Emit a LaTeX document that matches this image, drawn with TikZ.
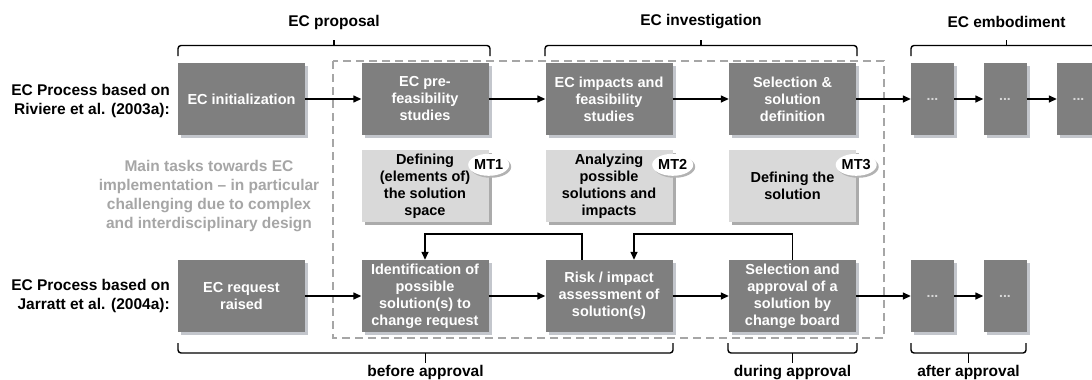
\documentclass[tikz,border=0pt]{standalone}
\usepackage{fontspec}
\setmainfont{Liberation Sans}
\usetikzlibrary{arrows.meta,shadows,shapes.geometric,calc}
\definecolor{boxgray}{HTML}{7F7F7F}
\definecolor{shgray}{HTML}{C3C6CC}
\definecolor{mtgray}{HTML}{D9D9D9}
\definecolor{mtshadow}{HTML}{ABABAB}
\definecolor{txtgray}{HTML}{A6A6A6}
\definecolor{dashgray}{HTML}{A6A6A6}
\definecolor{dotgray}{HTML}{D8D8D8}
\begin{document}
\begin{tikzpicture}[x=1pt,y=-1pt,
  boxfont/.style={font=\bfseries\fontsize{14.5}{17}\selectfont},
  proc/.style={boxfont, fill=boxgray, text=white, align=center,
    minimum width=127pt, minimum height=72pt, inner sep=0pt,
    drop shadow={shadow xshift=3pt, shadow yshift=-3pt, fill=shgray, opacity=1}},
  dotbox/.style={proc, minimum width=43pt, font=\bfseries\fontsize{14}{17}\selectfont, text=dotgray},
  task/.style={boxfont, fill=mtgray, text=black, align=center,
    minimum width=127pt, minimum height=72pt, inner sep=0pt,
    drop shadow={shadow xshift=3pt, shadow yshift=-3pt, fill=mtshadow, opacity=1}},
  bubble/.style={boxfont, ellipse, fill=white, minimum width=40pt, minimum height=22pt, inner sep=0pt,
    drop shadow={shadow xshift=2pt, shadow yshift=-2pt, fill=gray!60, opacity=1}},
  flow/.style={line width=1.4pt, -{Triangle[length=8pt,width=7pt]}},
  brace/.style={line width=1.4pt, rounded corners=3pt},
  head/.style={font=\bfseries\fontsize{15.5}{19}\selectfont},
  side/.style={font=\bfseries\fontsize{15.5}{19}\selectfont, align=right, anchor=east, inner sep=0pt},
  note/.style={font=\bfseries\fontsize{15.5}{18.7}\selectfont, text=txtgray, align=center, inner sep=0pt}
]
\useasboundingbox (0,0) rectangle (1092,380);
\fill[white] (0,0) rectangle (1092,380);

% dashed frame
\draw[dashgray, line width=1.4pt, dash pattern=on 8pt off 5pt] (333,61) rectangle (884,338);

% top row
\node[proc] (init) at (241.5,99) {EC initialization};
\node[proc] (pre) at (425,99) {EC pre-\\feasibility\\studies};
\node[proc] (imp) at (609,99) {EC impacts and\\feasibility\\studies};
\node[proc] (seldef) at (792.5,99) {Selection \&\\solution\\definition};
\node[dotbox] (d1) at (932.5,99) {...};
\node[dotbox] (d2) at (1005,99) {...};
\node[dotbox] (d3) at (1078.5,99) {...};

% main tasks
\node[task] (mt1) at (425,186) {Defining\\(elements of)\\the solution\\space};
\node[task] (mt2) at (609,186) {Analyzing\\possible\\solutions and\\impacts};
\node[task] (mt3) at (792.5,186) {Defining the\\solution};
\node[bubble] (b1) at ([yshift=-15pt]mt1.north east) {MT1};
\node[bubble] (b2) at ([yshift=-15pt]mt2.north east) {MT2};
\node[bubble] (b3) at ([yshift=-15pt]mt3.north east) {MT3};

% bottom row
\node[proc] (req) at (241.5,296) {EC request\\raised};
\node[proc] (ident) at (425,296) {Identification of\\possible\\solution(s) to\\change request};
\node[proc] (risk) at (609,296) {Risk / impact\\assessment of\\solution(s)};
\node[proc] (selapp) at (792.5,296) {Selection and\\approval of a\\solution by\\change board};
\node[dotbox] (e1) at (932.5,296) {...};
\node[dotbox] (e2) at (1005,296) {...};

% flows top
\draw[flow] (init) -- (pre);
\draw[flow] (pre) -- (imp);
\draw[flow] (imp) -- (seldef);
\draw[flow] (seldef) -- (d1);
\draw[flow] (d1) -- (d2);
\draw[flow] (d2) -- (d3);
% flows bottom
\draw[flow] (req) -- (ident);
\draw[flow] (ident) -- (risk);
\draw[flow] (risk) -- (selapp);
\draw[flow] (selapp) -- (e1);
\draw[flow] (e1) -- (e2);
% feedback
\draw[flow] ([xshift=-27pt]risk.north) -- ++(0,-26) -| (ident.north);
\draw[flow] (selapp.north) -- ++(0,-26) -| ([xshift=25pt]risk.north);

% side labels
\node[side] (l1) at (170,100.5) {EC Process based on\\Riviere et al. (2003a):};
\node[side] (l2) at (170,296) {EC Process based on\\Jarratt et al. (2004a):};
\node[note] (n1) at (209,196) {Main tasks towards EC\\implementation -- in particular\\challenging due to complex\\and interdisciplinary design};

% top braces
\draw[brace] (178,56) -- (178,45.5) -- (490,45.5) -- (490,56);
\draw[line width=1.4pt] (334,45.5) -- (334,39.5);
\node[head] (h1) at (334,22) {EC proposal};
\draw[brace] (545,56) -- (545,45.5) -- (857,45.5) -- (857,56);
\draw[line width=1.4pt] (701,45.5) -- (701,39.5);
\node[head] (h2) at (701,22) {EC investigation};
\draw[brace] (911,56) -- (911,45.5) -- (1102,45.5) -- (1102,56);
\draw[line width=1.4pt] (1006.5,45.5) -- (1006.5,39.5);
\node[head] (h3) at (1006.5,22) {EC embodiment};

% bottom braces
\draw[brace] (178,343) -- (178,353) -- (673,353) -- (673,343);
\draw[line width=1.4pt] (425.5,353) -- (425.5,363);
\node[head] (f1) at (425.5,372.5) {before approval};
\draw[brace] (728,343) -- (728,353) -- (857,353) -- (857,343);
\draw[line width=1.4pt] (792.5,353) -- (792.5,363);
\node[head] (f2) at (792.5,372.5) {during approval};
\draw[brace] (911,343) -- (911,353) -- (1026,353) -- (1026,343);
\draw[line width=1.4pt] (968.5,353) -- (968.5,363);
\node[head] (f3) at (968.5,372.5) {after approval};
\end{tikzpicture}
\end{document}
